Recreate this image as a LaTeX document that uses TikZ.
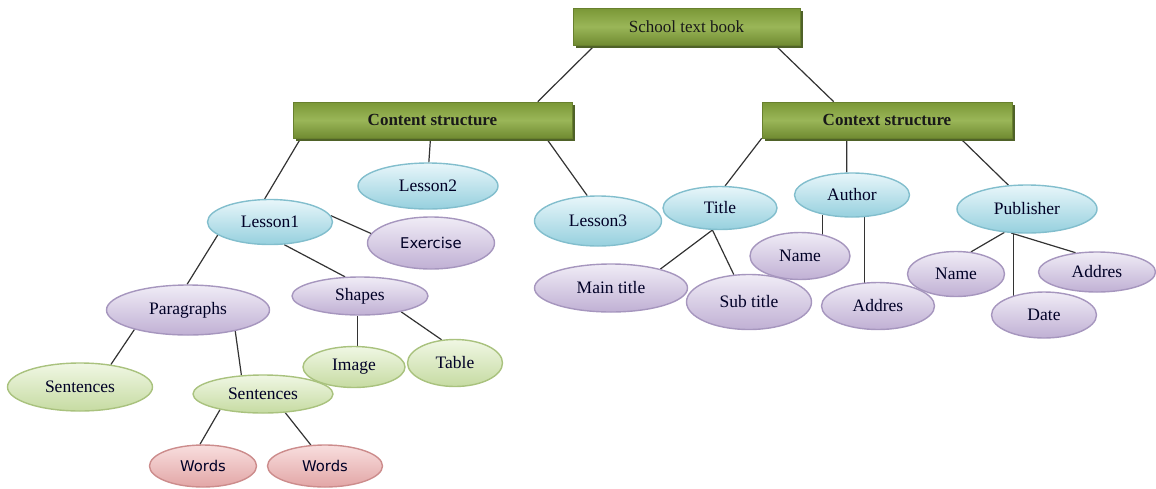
\documentclass[tikz,border=0pt]{standalone}
\usepackage{fontspec}
\setmainfont{Liberation Serif}
\newfontfamily\sansf{DejaVu Sans}
\usetikzlibrary{shapes.geometric,shadows,calc}
\pgfdeclarelayer{background}
\pgfsetlayers{background,main}
\definecolor{hdrA}{HTML}{7A9736}
\definecolor{hdrB}{HTML}{9AB658}
\definecolor{hdrS}{HTML}{4F6228}
\definecolor{lineC}{HTML}{333333}
\tikzset{
  hdr/.style={rectangle, inner sep=0pt, top color=hdrA, bottom color=hdrA!92!black, middle color=hdrB,
    draw=hdrA!85!black, line width=0.6pt,
    drop shadow={shadow xshift=3pt, shadow yshift=-3pt, fill=hdrS, opacity=1},
    font=\fontsize{17}{20}\selectfont, text=black!90},
  ell/.style={ellipse, inner sep=0pt, line width=1.4pt, font=\fontsize{17.5}{20}\selectfont, text=black!85!blue},
  bl/.style={ell, top color={rgb,255:red,232;green,246;blue,250}, bottom color={rgb,255:red,150;green,208;blue,222}, draw={rgb,255:red,130;green,190;blue,205}},
  pu/.style={ell, top color={rgb,255:red,240;green,236;blue,246}, bottom color={rgb,255:red,192;green,176;blue,212}, draw={rgb,255:red,166;green,150;blue,190}},
  gr/.style={ell, top color={rgb,255:red,240;green,247;blue,228}, bottom color={rgb,255:red,198;green,219;blue,162}, draw={rgb,255:red,169;green,194;blue,126}},
  pk/.style={ell, top color={rgb,255:red,248;green,222;blue,222}, bottom color={rgb,255:red,226;green,166;blue,166}, draw={rgb,255:red,204;green,140;blue,140}},
  sans/.style={font=\sansf\fontsize{14.8}{17}\selectfont},
  conn/.style={draw=lineC, line width=1.2pt}
}
\begin{document}
\begin{tikzpicture}[x=1pt,y=-1pt]
\useasboundingbox (0,0) rectangle (1156,488);
% headers
\node[hdr, minimum width=227pt, minimum height=37pt] (school) at (686.5,26.5) {School text book};
\node[hdr, minimum width=279pt, minimum height=36pt, font=\bfseries\fontsize{17}{20}\selectfont] (content) at (432.5,120) {Content structure};
\node[hdr, minimum width=250pt, minimum height=36pt, font=\bfseries\fontsize{17}{20}\selectfont] (context) at (887,120) {Context structure};
% left tree
\node[bl, minimum width=125pt, minimum height=45pt] (lesson1) at (270,222) {Lesson1};
\node[bl, minimum width=140pt, minimum height=46pt] (lesson2) at (428,186) {Lesson2};
\node[pu, sans, minimum width=127pt, minimum height=52pt] (exercise) at (431,243) {Exercise};
\node[pu, minimum width=163pt, minimum height=50pt] (paragraphs) at (188,310) {Paragraphs};
\node[pu, minimum width=136pt, minimum height=38pt] (shapes) at (360,296) {Shapes};
\node[gr, minimum width=145pt, minimum height=48pt] (sentL) at (80,387) {Sentences};
\node[gr, minimum width=140pt, minimum height=38pt] (sentM) at (263,394) {Sentences};
\node[gr, minimum width=102pt, minimum height=41pt] (image) at (354,367) {Image};
\node[gr, minimum width=95pt, minimum height=47pt] (table) at (455,363) {Table};
\node[pk, sans, minimum width=107pt, minimum height=42pt] (words1) at (203,466) {Words};
\node[pk, sans, minimum width=115pt, minimum height=42pt] (words2) at (325,466) {Words};
\node[bl, minimum width=127pt, minimum height=50pt] (lesson3) at (598,221) {Lesson3};
% right tree
\node[bl, minimum width=114pt, minimum height=43pt] (title) at (720,208) {Title};
\node[pu, minimum width=153pt, minimum height=48pt] (maintitle) at (611,288) {Main title};
\node[pu, minimum width=125pt, minimum height=55pt] (subtitle) at (749,302) {Sub title};
\node[bl, minimum width=115pt, minimum height=44pt] (author) at (852,195) {Author};
\node[pu, minimum width=100pt, minimum height=47pt] (nameA) at (800,256) {Name};
\node[pu, minimum width=113pt, minimum height=47pt] (addresA) at (878,306) {Addres};
\node[bl, minimum width=140pt, minimum height=48pt] (publisher) at (1027,209) {Publisher};
\node[pu, minimum width=97pt, minimum height=45pt] (nameP) at (956,274) {Name};
\node[pu, minimum width=105pt, minimum height=46pt] (date) at (1044,315) {Date};
\node[pu, minimum width=117pt, minimum height=40pt] (addresP) at (1097,272) {Addres};
% connectors
\begin{pgfonlayer}{background}
\draw[conn] ($(school.south west)+(22,0)$) -- ($(content.north west)+(245,0)$);
\draw[conn] ($(school.south east)+(-25,0)$) -- ($(context.north west)+(72,0)$);
\draw[conn] ($(content.south west)+(8,0)$) -- (lesson1.103);
\draw[conn] ($(content.south)+(-2,0)$) -- (lesson2.88);
\draw[conn] ($(content.south east)+(-26,0)$) -- (lesson3.113);
\draw[conn] (context.south west) -- (title.77);
\draw[conn] ($(context.south west)+(85,0)$) -- (author.103);
\draw[conn] ($(context.south east)+(-52,0)$) -- (publisher.128);
\draw[conn] (lesson1.6) -- (exercise.171);
\draw[conn] (lesson1.194) -- (paragraphs.92);
\draw[conn] (lesson1.302) -- (shapes.128);
\draw[conn] (shapes.263) -- (shapes.263 |- image.center);
\draw[conn] (shapes.339) -- (table.120);
\draw[conn] (paragraphs.200) -- (sentL.36);
\draw[conn] (paragraphs.336) -- (sentM.139);
\draw[conn] (sentM.200) -- (words1.98);
\draw[conn] (sentM.320) -- (words2.124);
\draw[conn] (title.251) -- (maintitle.21);
\draw[conn] (title.251) -- (subtitle.119);
\draw[conn] (author.214) -- (author.214 |- nameA.center);
\draw[conn] (author.299) -- (author.299 |- addresA.center);
\draw[conn] (publisher.226) -- (nameP.56);
\draw[conn] (publisher.241) -- (publisher.241 |- date.center);
\draw[conn] (publisher.237) -- (addresP.138);
\end{pgfonlayer}
\end{tikzpicture}
\end{document}
